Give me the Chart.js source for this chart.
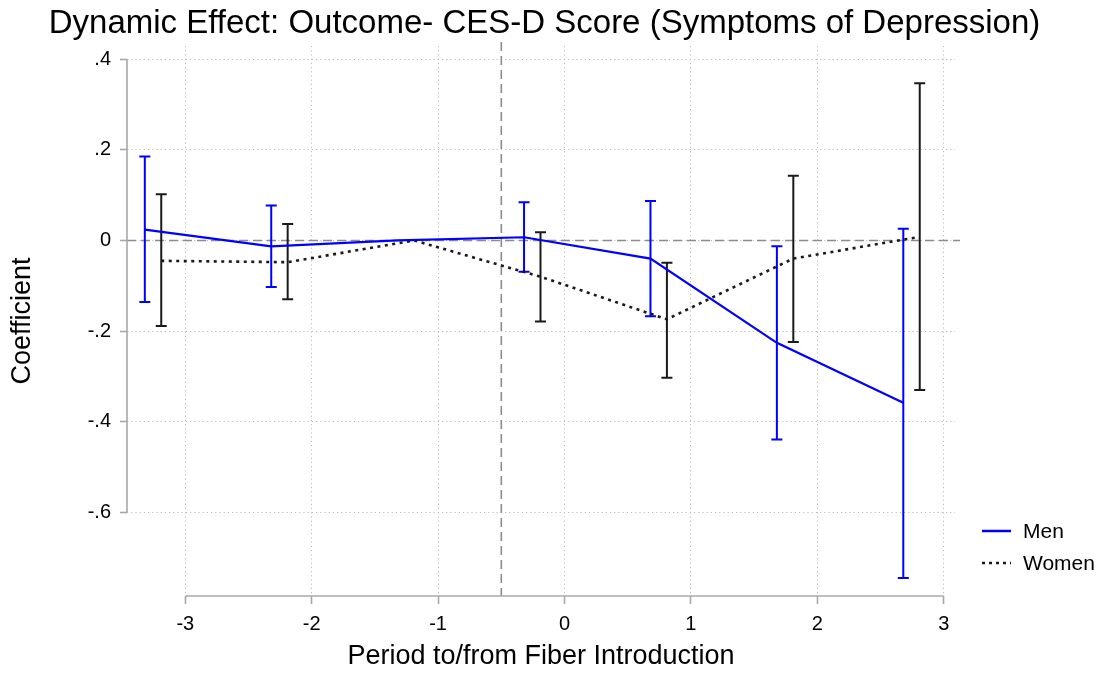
<!DOCTYPE html>
<html>
<head>
<meta charset="utf-8">
<script src="https://cdn.jsdelivr.net/npm/chart.js@4.4.1/dist/chart.umd.min.js"></script>
<style>
html,body{margin:0;padding:0;background:#fff;overflow:hidden}
#wrap{width:1099px;height:673px}
</style>
</head>
<body>
<div id="wrap"><canvas id="c" width="1099" height="673"></canvas></div>
<script>
// ---- data ----
const periods = [-3, -2, -1, 0, 1, 2, 3];
const seriesNames = ['Men', 'Women'];
const menOffset = -0.32;     // horizontal dodge of the Men estimates
const womenOffset = -0.19;   // horizontal dodge of the Women estimates
const menCoef  = [0.024, -0.013, 0, 0.007, -0.040, -0.226, -0.358];
const menLow   = [-0.136, -0.103, null, -0.069, -0.167, -0.439, -0.745];
const menHigh  = [0.185, 0.077, null, 0.084, 0.087, -0.013, 0.026];
const womenCoef = [-0.045, -0.048, 0, -0.080, -0.174, -0.040, 0.008];
const womenLow  = [-0.189, -0.130, null, -0.179, -0.303, -0.224, -0.330];
const womenHigh = [0.102, 0.036, null, 0.018, -0.049, 0.143, 0.347];
const xTicks = [-3, -2, -1, 0, 1, 2, 3];
const yTicks = [-0.6, -0.4, -0.2, 0, 0.2, 0.4];
const yTickLabels = ['-.6', '-.4', '-.2', '0', '.2', '.4'];
const eventLine = -0.5;
const zeroLine = 0;
const titleText = 'Dynamic Effect: Outcome- CES-D Score (Symptoms of Depression)';
const xTitle = 'Period to/from Fiber Introduction';
const yTitle = 'Coefficient';

const FONT = "'Liberation Sans', Arial, Helvetica, sans-serif";
const BLUE = '#0000ff';
const BLACK = '#1a1a1a';

function pts(offset, vals) {
  return periods.map((p, i) => ({x: p + offset, y: vals[i]}));
}

const decor = {
  id: 'decor',
  beforeDatasetsDraw(chart) {
    const {ctx, chartArea: a, scales: {x, y}} = chart;
    ctx.save();
    // reference lines
    ctx.strokeStyle = '#8c8c8c';
    ctx.lineWidth = 1.6;
    ctx.setLineDash([9, 5]);
    const y0 = y.getPixelForValue(zeroLine);
    ctx.beginPath(); ctx.moveTo(a.left, y0); ctx.lineTo(a.right + 5, y0); ctx.stroke();
    const xe = x.getPixelForValue(eventLine);
    ctx.beginPath(); ctx.moveTo(xe, a.top - 4); ctx.lineTo(xe, a.bottom); ctx.stroke();
    ctx.setLineDash([]);
    // axis lines (span of ticks)
    ctx.strokeStyle = '#a8a8a8';
    ctx.lineWidth = 1.6;
    ctx.beginPath();
    ctx.moveTo(a.left, y.getPixelForValue(yTicks[yTicks.length - 1]));
    ctx.lineTo(a.left, y.getPixelForValue(yTicks[0]));
    ctx.stroke();
    ctx.beginPath();
    ctx.moveTo(x.getPixelForValue(xTicks[0]), a.bottom);
    ctx.lineTo(x.getPixelForValue(xTicks[xTicks.length - 1]), a.bottom);
    ctx.stroke();
    // error bars
    const bars = [
      {off: menOffset, lo: menLow, hi: menHigh, color: BLUE},
      {off: womenOffset, lo: womenLow, hi: womenHigh, color: BLACK}
    ];
    ctx.lineWidth = 2;
    bars.forEach(b => {
      ctx.strokeStyle = b.color;
      periods.forEach((p, i) => {
        if (b.lo[i] === null) return;
        const px = x.getPixelForValue(p + b.off);
        const pl = y.getPixelForValue(b.lo[i]);
        const ph = y.getPixelForValue(b.hi[i]);
        ctx.beginPath();
        ctx.moveTo(px, pl); ctx.lineTo(px, ph);
        ctx.moveTo(px - 5.5, pl); ctx.lineTo(px + 5.5, pl);
        ctx.moveTo(px - 5.5, ph); ctx.lineTo(px + 5.5, ph);
        ctx.stroke();
      });
    });
    ctx.restore();
  },
  afterDraw(chart) {
    const {ctx} = chart;
    ctx.save();
    // title
    ctx.fillStyle = '#000';
    ctx.font = `33px ${FONT}`;
    ctx.textAlign = 'center';
    ctx.textBaseline = 'alphabetic';
    ctx.fillText(titleText, 544.5, 33);
    // legend
    const items = [
      {name: seriesNames[0], color: BLUE, dash: [], w: 2.5, y: 531},
      {name: seriesNames[1], color: BLACK, dash: [3, 4], w: 2.5, y: 563}
    ];
    items.forEach(it => {
      ctx.strokeStyle = it.color;
      ctx.lineWidth = it.w;
      ctx.setLineDash(it.dash);
      ctx.beginPath(); ctx.moveTo(982, it.y); ctx.lineTo(1011, it.y); ctx.stroke();
      ctx.setLineDash([]);
      ctx.fillStyle = '#000';
      ctx.font = `21px ${FONT}`;
      ctx.textAlign = 'left';
      ctx.textBaseline = 'middle';
      ctx.fillText(it.name, 1023, it.y + 1);
    });
    ctx.restore();
  }
};

const gridCommon = {
  color: '#bdbdbd',
  lineWidth: 1,
  borderDash: [1.2, 3],
  tickColor: '#a8a8a8',
  tickWidth: 1.6,
  tickBorderDash: []
};

new Chart(document.getElementById('c'), {
  type: 'scatter',
  data: {
    datasets: [
      {
        label: seriesNames[0],
        data: pts(menOffset, menCoef),
        showLine: true,
        borderColor: BLUE,
        backgroundColor: BLUE,
        borderWidth: 2.2,
        pointRadius: 0,
        tension: 0
      },
      {
        label: seriesNames[1],
        data: pts(womenOffset, womenCoef),
        showLine: true,
        borderColor: BLACK,
        backgroundColor: BLACK,
        borderWidth: 2.6,
        borderDash: [3, 4.5],
        pointRadius: 0,
        tension: 0
      }
    ]
  },
  options: {
    responsive: false,
    animation: false,
    devicePixelRatio: 1,
    layout: {padding: {left: 0, right: 144, top: 46, bottom: 0}},
    plugins: {legend: {display: false}, tooltip: {enabled: false}, title: {display: false}},
    scales: {
      x: {
        type: 'linear',
        min: -3.461,
        max: 3.089,
        afterBuildTicks: s => { s.ticks = xTicks.map(v => ({value: v})); },
        afterFit: s => { s.height = 77; },
        ticks: {
          color: '#000',
          font: {family: FONT, size: 20},
          padding: 8,
          maxRotation: 0,
          autoSkip: false,
          callback: v => String(v)
        },
        grid: Object.assign({}, gridCommon, {tickLength: 8}),
        border: {display: false, dash: [1.2, 3]},
        title: {
          display: true,
          text: xTitle,
          color: '#000',
          font: {family: FONT, size: 27},
          padding: {top: 0, bottom: 0}
        }
      },
      y: {
        type: 'linear',
        min: -0.7845,
        max: 0.429,
        afterBuildTicks: s => { s.ticks = yTicks.map(v => ({value: v})); },
        afterFit: s => { s.width = 127; },
        ticks: {
          color: '#000',
          font: {family: FONT, size: 20},
          padding: 9,
          autoSkip: false,
          callback: v => {
            const i = yTicks.findIndex(t => Math.abs(t - v) < 1e-9);
            return i >= 0 ? yTickLabels[i] : '';
          }
        },
        grid: Object.assign({}, gridCommon, {tickLength: 7}),
        border: {display: false, dash: [1.2, 3]},
        title: {
          display: true,
          text: yTitle,
          color: '#000',
          font: {family: FONT, size: 27},
          padding: {top: 6, bottom: 0}
        }
      }
    }
  },
  plugins: [decor]
});
</script>
</body>
</html>
